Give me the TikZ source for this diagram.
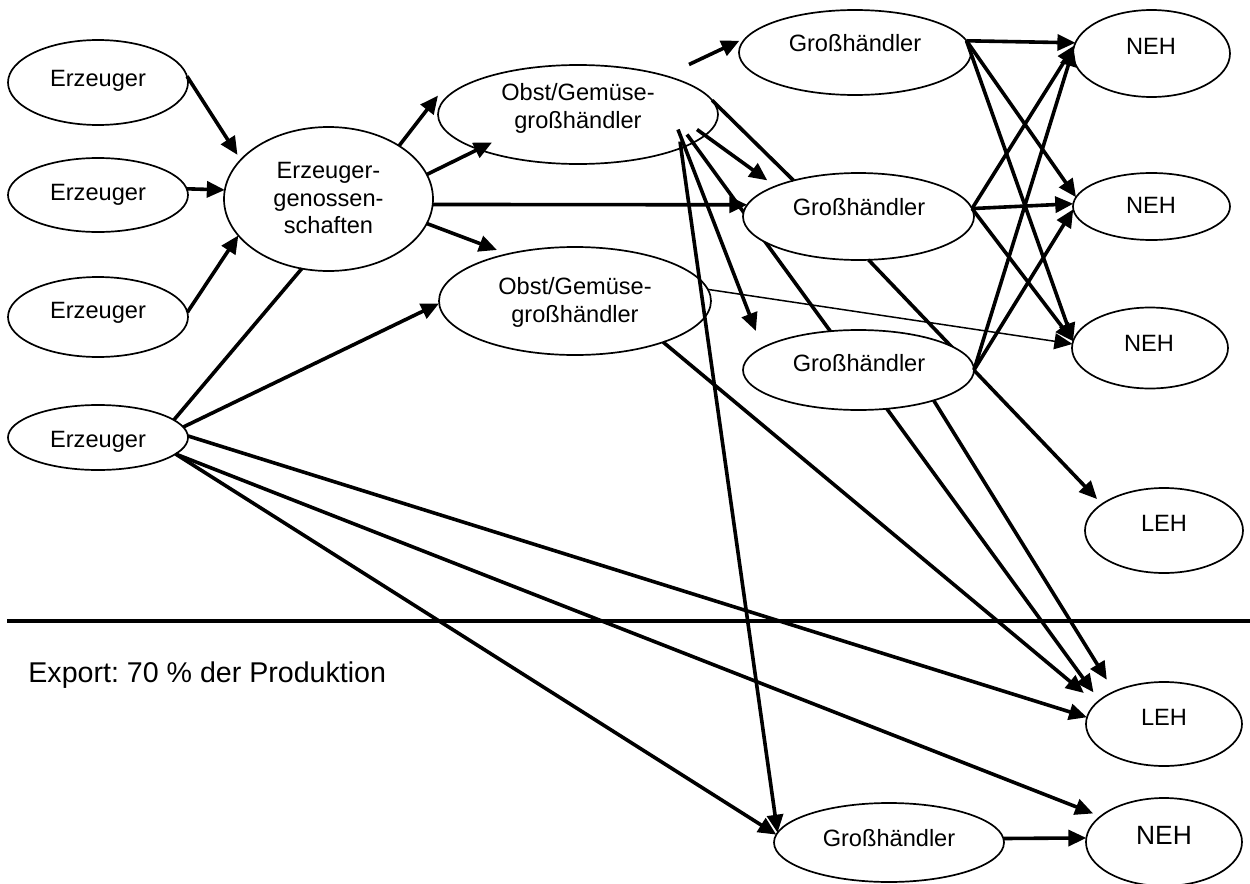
\documentclass[tikz,border=0pt]{standalone}
\usepackage{fontspec}
\setmainfont{Liberation Sans}
\frenchspacing
\usetikzlibrary{shapes.geometric,arrows.meta,calc}
\begin{document}
\begin{tikzpicture}[x=0.5pt,y=-0.5pt,
  ell/.style={ellipse, draw, line width=0.85pt, fill=white, inner sep=0pt, outer sep=0pt},
  txt/.style={font=\fontsize{11.8}{13.75}\selectfont, inner sep=0pt, anchor=base},
  txtm/.style={font=\fontsize{11.8}{13.75}\selectfont, inner sep=0pt, align=center, anchor=center},
  arr/.style={line width=1.8pt, -{Triangle[length=9pt,width=8pt]}},
  arrthin/.style={line width=0.75pt, -{Triangle[length=9pt,width=8pt]}},
  ln/.style={line width=1.8pt}]
\useasboundingbox (0,0) rectangle (1250,884);
% ellipses (except G2, G3)
\node[ell, minimum width=90pt, minimum height=42.5pt] (e1) at (98,82.5) {};
\node[ell, minimum width=90pt, minimum height=37pt] (e2) at (98,195) {};
\node[ell, minimum width=90pt, minimum height=40pt] (e3) at (98,317) {};
\node[ell, minimum width=90pt, minimum height=32.5pt] (e4) at (98,437.5) {};
\node[ell, minimum width=104.5pt, minimum height=72pt] (eg) at (328.5,199) {};
\node[ell, minimum width=140pt, minimum height=49.5pt] (og1) at (578,114.5) {};
\node[ell, minimum width=136pt, minimum height=54pt] (og2) at (575,301) {};
\node[ell, minimum width=116pt, minimum height=42.5pt] (g1) at (855,52.5) {};
\node[ell, minimum width=115pt, minimum height=39.5pt] (g4) at (889,842.5) {};
\node[ell, minimum width=78.5pt, minimum height=43.5pt] (neh1) at (1151.5,53.5) {};
\node[ell, minimum width=78.5pt, minimum height=33.5pt] (neh2) at (1151.5,206.5) {};
\node[ell, minimum width=78pt, minimum height=40.5pt] (neh3) at (1150,348) {};
\node[ell, minimum width=79pt, minimum height=42.5pt] (leh1) at (1164,530.5) {};
\node[ell, minimum width=78pt, minimum height=42pt] (leh2) at (1164,724) {};
\node[ell, minimum width=78pt, minimum height=44pt] (neh4) at (1164,842) {};
% connector passing behind G2 and G3
\draw[arr, shorten >=5pt] ($(og1)+(109,20)$) -- (leh2.160);
\node[ell, minimum width=115.5pt, minimum height=43.5pt] (g2) at (858.5,216.5) {};
% connector passing behind G3
\draw[arr, shorten >=3.5pt] (g2.283) -- (leh1.157);
\node[ell, minimum width=115.5pt, minimum height=40pt] (g3) at (858.5,370) {};
% texts
\node[txt] (te1) at (98,86) {Erzeuger};
\node[txt] (te2) at (98,200) {Erzeuger};
\node[txt] (te3) at (98,318) {Erzeuger};
\node[txt] (te4) at (98,447) {Erzeuger};
\node[txtm] (teg) at (328.5,198.2) {Erzeuger-\\genossen-\\schaften};
\node[txtm] (tog1) at (578,108.5) {Obst/Gemüse-\\großhändler};
\node[txtm] (tog2) at (575,302.5) {Obst/Gemüse-\\großhändler};
\node[txt] (tg1) at (855,51.5) {Großhändler};
\node[txt] (tg2) at (859,215) {Großhändler};
\node[txt] (tg3) at (859,371) {Großhändler};
\node[txt] (tg4) at (889,846) {Großhändler};
\node[txt] (tneh1) at (1151,54) {NEH};
\node[txt] (tneh2) at (1151,213) {NEH};
\node[txt] (tneh3) at (1149,351) {NEH};
\node[txt] (tleh1) at (1164,531) {LEH};
\node[txt] (tleh2) at (1164,725) {LEH};
\node[txt, font=\fontsize{13.2}{15}\selectfont] (tneh4) at (1164,844) {NEH};
% Erzeuger connectors
\draw[arr, shorten >=3pt] (e1.4) -- (eg.156);
\draw[arr] (e2.4) -- (eg.175);
\draw[arr] (e3.3) -- (eg.202);
\draw[ln] (e4.13) -- (eg.249);
\draw[arr] (e4.7) -- (og2.181);
\draw[arr] (e4.1) -- (leh2.175);
\draw[arr, shorten >=4pt] (e4.348) -- (neh4.158);
\draw[arr] (e4.348) -- (g4.176);
% Erzeugergenossenschaften connectors
\draw[arr] (eg.37) -- ($(og1)+(-140,-19)$);
\draw[arr] (eg.14) -- ($(og1)+(-86,28)$);
\draw[arr] (eg.357) -- (g2.174);
\draw[arr] (eg.346) -- ($(og2)+(-78,-51)$);
% Obst/Gemuese-grosshaendler connectors
\draw[arr, shorten >=4pt] ($(og1)+(111,-50)$) -- (g1.172);
\draw[ln] (og1.6) -- (g2.151);
\draw[arr, shorten >=5pt] ($(og1)+(119,15)$) -- (g2.160);
\draw[arr, shorten >=9pt] ($(og1)+(100,15)$) -- (g3.167);
\draw[arr] ($(og1)+(102,27)$) -- (g4.175);
\draw[arrthin] (og2.5) -- (neh3.177);
\draw[arr, shorten >=8pt] (og2.335) -- (leh2.163);
% Grosshaendler connectors
\draw[arr] (g1.6) -- (neh1.172);
\draw[arr] (g1.6) -- (neh2.173);
\draw[arr] (g1.6) -- (neh3.175);
\draw[arr] (g2.4) -- (neh1.174);
\draw[arr] (g2.4) -- (neh2.178);
\draw[arr] (g2.4) -- (neh3.175);
\draw[arr] (g3.0) -- (neh1.176);
\draw[arr] (g3.0) -- (neh2.182);
\draw[arr, shorten >=7pt] (g3.338) -- (leh2.147);
\draw[arr] (g4.2) -- (neh4.177);
% export line and label
\coordinate (hl1) at (7,621);
\coordinate (hl2) at (1250,621);
\draw[line width=2pt] (hl1) -- (hl2);
\node[font=\fontsize{14.3}{17}\selectfont, inner sep=0pt, anchor=base west] (export) at (28,682) {Export: 70 \% der Produktion};
\end{tikzpicture}
\end{document}
